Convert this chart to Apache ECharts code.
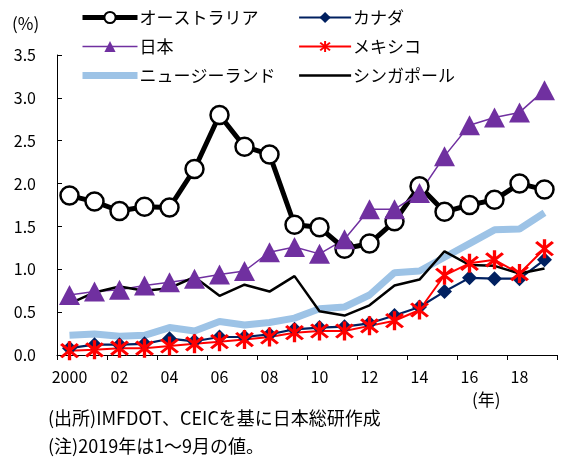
<!DOCTYPE html>
<html><head><meta charset="utf-8">
<script src="https://cdn.jsdelivr.net/npm/echarts@6/dist/echarts.min.js"></script>
<style>html,body{margin:0;padding:0;background:#fff}#c{width:561px;height:459px}</style>
</head><body><div id="c"></div>
<script>
const categories = ['2000','01','02','03','04','05','06','07','08','09','10','11','12','13','14','15','16','17','18','19'];
const australia = [1.86,1.79,1.68,1.73,1.72,2.17,2.80,2.43,2.34,1.52,1.49,1.24,1.30,1.56,1.97,1.67,1.75,1.81,2.00,1.93];
const canada    = [0.08,0.12,0.12,0.13,0.19,0.16,0.21,0.21,0.24,0.30,0.32,0.33,0.37,0.46,0.56,0.74,0.90,0.89,0.89,1.11];
const japan     = [0.70,0.74,0.76,0.81,0.85,0.89,0.94,0.98,1.20,1.26,1.18,1.35,1.70,1.70,1.89,2.32,2.68,2.77,2.83,3.09];
const mexico    = [0.05,0.06,0.08,0.08,0.105,0.13,0.155,0.18,0.21,0.26,0.28,0.28,0.34,0.40,0.525,0.93,1.07,1.11,0.95,1.24];
const newZealand= [0.23,0.245,0.22,0.23,0.32,0.28,0.39,0.35,0.38,0.43,0.54,0.56,0.70,0.96,0.98,1.14,1.30,1.46,1.47,1.66];
const singapore = [0.60,0.73,0.80,0.75,0.78,0.91,0.69,0.82,0.74,0.92,0.51,0.46,0.58,0.81,0.88,1.21,1.05,1.04,0.95,1.01];
const seriesNames = ['オーストラリア','カナダ','日本','メキシコ','ニュージーランド','シンガポール'];
const yTicks = [0,0.5,1,1.5,2,2.5,3,3.5];

const FONT = '"Noto Sans CJK JP", "Noto Sans", sans-serif';
const asterisk = 'path://M43 0L57 0L57 100L43 100Z M20 10L90 80L80 90L10 20Z M90 20L20 90L10 80L80 10Z';
const thickBar = 'path://M0 0H100V13H0Z';
const thinBar = 'path://M0 0H100V5H0Z';

const legendCommon = {orient:'vertical', top:9, padding:0, itemHeight:14, itemGap:12,
  textStyle:{fontSize:17, color:'#000', fontFamily:FONT, padding:[0,0,0,-3]},
  lineStyle:{width:'inherit'}};

const chart = echarts.init(document.getElementById('c'), null, {renderer:'canvas'});
chart.setOption({
  animation:false,
  backgroundColor:'#fff',
  textStyle:{fontFamily:FONT, color:'#000'},
  grid:{left:57, right:4, top:55, bottom:104, containLabel:false},
  legend:[
    Object.assign({left:80, itemWidth:55,
     data:[seriesNames[0], seriesNames[2], {name:seriesNames[4], icon:thickBar}]}, legendCommon),
    Object.assign({left:298, itemWidth:52,
     data:[seriesNames[1], seriesNames[3], {name:seriesNames[5], icon:thinBar}]}, legendCommon)
  ],
  xAxis:{type:'category', data:categories, boundaryGap:true,
    axisLine:{lineStyle:{color:'#000', width:1}},
    axisTick:{show:true, inside:false, length:5, lineStyle:{color:'#000'}},
    axisLabel:{interval:1, fontSize:16, color:'#000', margin:14, fontFamily:FONT},
    splitLine:{show:false}},
  yAxis:{type:'value', min:yTicks[0], max:yTicks[yTicks.length-1], interval:0.5,
    axisLine:{show:true, lineStyle:{color:'#000', width:1}},
    axisTick:{show:true, inside:true, length:5, lineStyle:{color:'#000'}},
    axisLabel:{fontSize:16, color:'#000', margin:21, fontFamily:FONT, formatter:v=>v.toFixed(1)},
    splitLine:{show:false}},
  graphic:[
    {type:'text', left:12, top:15, style:{text:'(%)', font:'17px '+FONT, fill:'#000'}},
    {type:'text', left:472, top:391, style:{text:'(年)', font:'17px '+FONT, fill:'#000'}},
    {type:'text', left:48, top:409, style:{text:'(出所)IMFDOT、CEICを基に日本総研作成', font:'18px '+FONT, fill:'#000'}},
    {type:'text', left:48, top:437, style:{text:'(注)2019年は1～9月の値。', font:'18px '+FONT, fill:'#000'}}
  ],
  series:[
    {name:seriesNames[0], type:'line', data:australia, symbol:'circle', symbolSize:18, showAllSymbol:true,
     lineStyle:{color:'#000', width:5}, itemStyle:{color:'#fff', borderColor:'#000', borderWidth:2.5}},
    {name:seriesNames[1], type:'line', data:canada, symbol:'diamond', symbolSize:15, showAllSymbol:true,
     lineStyle:{color:'#002060', width:2.2}, itemStyle:{color:'#002060'}},
    {name:seriesNames[2], type:'line', data:japan, symbol:'triangle', symbolSize:[21,20], showAllSymbol:true,
     lineStyle:{color:'#7030A0', width:1.5}, itemStyle:{color:'#7030A0'}},
    {name:seriesNames[3], type:'line', data:mexico, symbol:asterisk, symbolSize:19, showAllSymbol:true,
     lineStyle:{color:'#FF0000', width:2}, itemStyle:{color:'#FF0000'}},
    {name:seriesNames[4], type:'line', data:newZealand, symbol:'none', showSymbol:false,
     lineStyle:{color:'#9DC3E6', width:7}, itemStyle:{color:'#9DC3E6'}},
    {name:seriesNames[5], type:'line', data:singapore, symbol:'none', showSymbol:false,
     lineStyle:{color:'#000', width:2.5}, itemStyle:{color:'#000'}}
  ]
});
</script></body></html>
